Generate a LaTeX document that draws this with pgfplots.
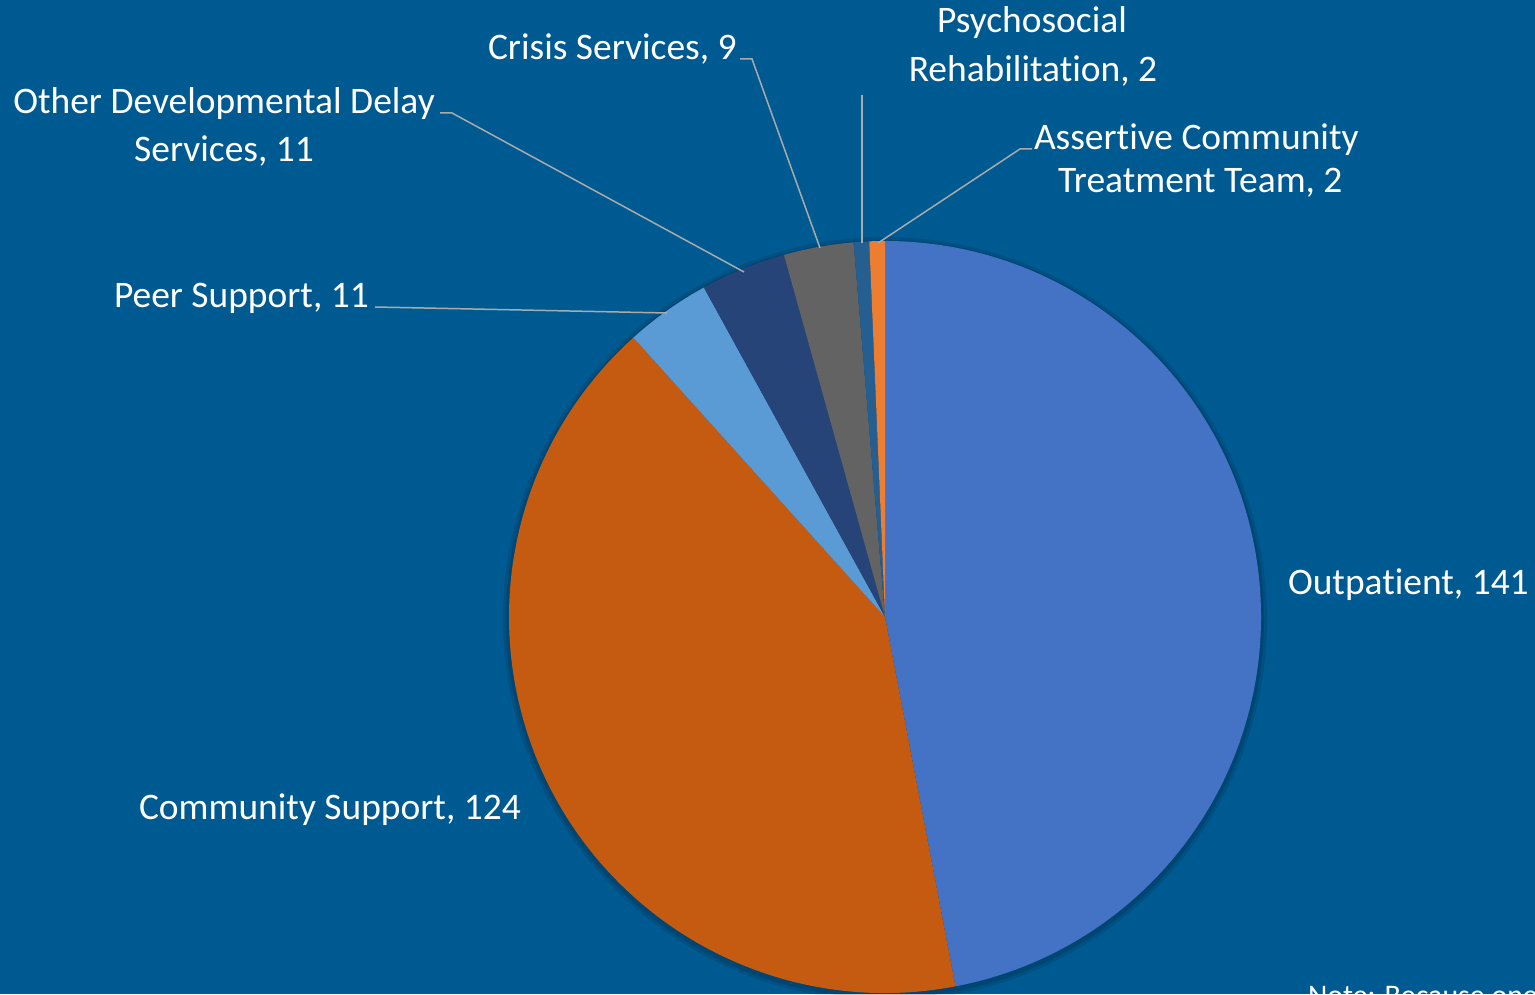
\documentclass[border=0pt]{standalone}
\usepackage{pgfplots}
\pgfplotsset{compat=1.18}
\usepackage{fontspec}
\setmainfont{Carlito}[Ligatures={NoCommon}]
\definecolor{bg}{RGB}{0,90,146}
\definecolor{cOut}{RGB}{68,114,196}
\definecolor{cCom}{RGB}{197,90,17}
\definecolor{cPeer}{RGB}{91,155,213}
\definecolor{cDev}{RGB}{38,68,120}
\definecolor{cCri}{RGB}{99,99,99}
\definecolor{cPsy}{RGB}{37,94,145}
\definecolor{cAss}{RGB}{237,125,49}
\definecolor{lead}{RGB}{170,170,170}
\tikzset{lbl/.style={inner sep=0pt, outer sep=0pt, text=white, font=\fontsize{37.6}{45}\selectfont}}
\begin{document}
\begin{tikzpicture}
\begin{axis}[width=1535bp, height=994bp, scale only axis,
  xmin=0, xmax=1535, ymin=0, ymax=994, hide axis, clip=true]
\fill[bg] (axis cs:0,0) rectangle (axis cs:1535,994);
% shadow
\fill[black, opacity=0.10] (axis cs:885,375) circle[radius=382bp];
\fill[black, opacity=0.12] (axis cs:885,375) circle[radius=379bp];
% pie: values 141,124,11,11,9,2,2 (total 300), clockwise from 90 deg
\fill[cOut] (axis cs:885,377) -- ++(90:376bp) arc[start angle=90, end angle={90-141*1.2}, radius=376bp] -- cycle;
\fill[cCom] (axis cs:885,377) -- ++({90-141*1.2}:376bp) arc[start angle={90-141*1.2}, end angle={90-(141+124)*1.2}, radius=376bp] -- cycle;
\fill[cPeer] (axis cs:885,377) -- ++({90-(141+124)*1.2}:376bp) arc[start angle={90-(141+124)*1.2}, end angle={90-(141+124+11)*1.2}, radius=376bp] -- cycle;
\fill[cDev] (axis cs:885,377) -- ++({90-(141+124+11)*1.2}:376bp) arc[start angle={90-(141+124+11)*1.2}, end angle={90-(141+124+11+11)*1.2}, radius=376bp] -- cycle;
\fill[cCri] (axis cs:885,377) -- ++({90-(141+124+11+11)*1.2}:376bp) arc[start angle={90-(141+124+11+11)*1.2}, end angle={90-(141+124+11+11+9)*1.2}, radius=376bp] -- cycle;
\fill[cPsy] (axis cs:885,377) -- ++({90-(141+124+11+11+9)*1.2}:376bp) arc[start angle={90-(141+124+11+11+9)*1.2}, end angle={90-(141+124+11+11+9+2)*1.2}, radius=376bp] -- cycle;
\fill[cAss] (axis cs:885,377) -- ++({90-(141+124+11+11+9+2)*1.2}:376bp) arc[start angle={90-(141+124+11+11+9+2)*1.2}, end angle={90-300*1.2}, radius=376bp] -- cycle;
% leader lines
\draw[lead, line width=1.5pt] (axis cs:1032,845) -- (axis cs:1020,845) -- (axis cs:878,751);
\draw[lead, line width=1.5pt] (axis cs:862,899) -- (axis cs:862,751);
\draw[lead, line width=1.5pt] (axis cs:740,935) -- (axis cs:752,935) -- (axis cs:820,746);
\draw[lead, line width=1.5pt] (axis cs:440,881) -- (axis cs:452,881) -- (axis cs:744,722);
\draw[lead, line width=1.5pt] (axis cs:375,687) -- (axis cs:667,681);
% labels
\node[lbl, anchor=base west] at (axis cs:1288,400) {Outpatient, 141};
\node[lbl, anchor=base west] at (axis cs:139,175) {Community Support, 124};
\node[lbl, anchor=base west] at (axis cs:114,686) {Peer Support, 11};
\node[lbl, anchor=base] at (axis cs:224,880) {Other Developmental Delay};
\node[lbl, anchor=base] at (axis cs:224,832) {Services, 11};
\node[lbl, anchor=base west] at (axis cs:488,934) {Crisis Services, 9};
\node[lbl, anchor=base] at (axis cs:1032,961) {Psychosocial};
\node[lbl, anchor=base] at (axis cs:1033,912) {Rehabilitation, 2};
\node[lbl, anchor=base west] at (axis cs:1034,844) {Assertive Community};
\node[lbl, anchor=base west] at (axis cs:1058,801) {Treatment Team, 2};
\node[lbl, anchor=base west, font=\fontsize{30}{36}\selectfont] at (axis cs:1308,-11) {Note: Because one};
\end{axis}
\pgfresetboundingbox
\useasboundingbox (current axis.south west) rectangle (current axis.north east);
\end{tikzpicture}
\end{document}
